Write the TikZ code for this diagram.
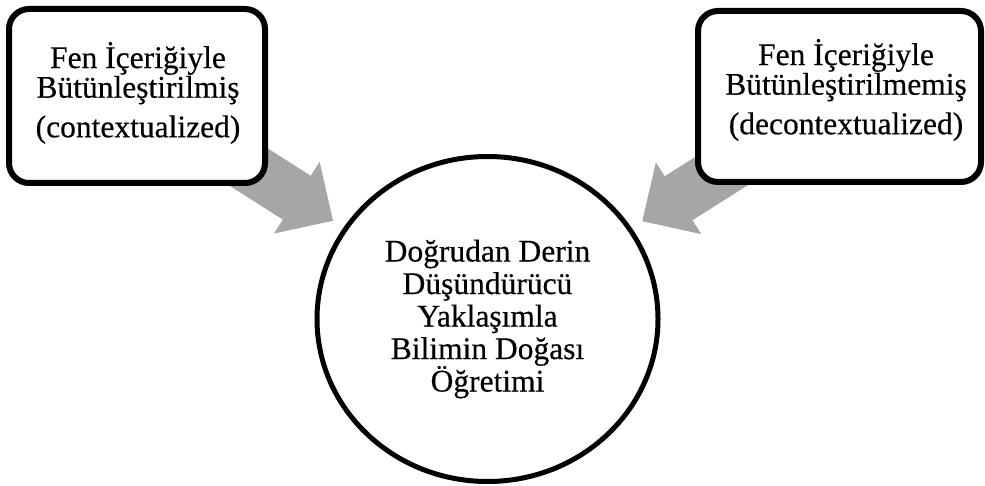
\documentclass[tikz,border=0pt]{standalone}
\usepackage{fontspec}
\setmainfont{Liberation Serif}[RawFeature={embolden=0.4}]
\usetikzlibrary{shapes.geometric,arrows.meta,backgrounds}
\definecolor{arrowgray}{HTML}{A6A6A6}
\begin{document}
\begin{tikzpicture}[x=1pt,y=-1pt,
  box/.style={draw=black, line width=6pt, rounded corners=20pt, fill=white, inner sep=0pt, outer sep=0pt},
  boxtext/.style={align=center, font=\fontsize{31.5}{28}\selectfont, inner sep=0pt},
  circ/.style={ellipse, draw=black, line width=5pt, fill=white, inner sep=0pt, outer sep=0pt, minimum width=341pt, minimum height=325pt, align=center, font=\fontsize{31.5}{32.5}\selectfont},
  bigarrow/.style={draw=arrowgray, line width=52pt, -{Triangle[width=85pt,length=43pt,line width=0pt]}, shorten >=15pt}
]
\useasboundingbox (0,0) rectangle (985,486);
\node[box, minimum width=256pt, minimum height=174pt] (lbox) at (137,96) {};
\node[boxtext] (ltext) at (138,93) {Fen İçeriğiyle\\Bütünleştirilmiş\\[10pt](contextualized)};
\node[box, minimum width=283pt, minimum height=171pt] (rbox) at (839.5,96.5) {};
\node[boxtext] (rtext) at (846,90) {Fen İçeriğiyle\\Bütünleştirilmemiş\\[10pt](decontextualized)};
\node[circ] (circ) at (487.5,319) {Doğrudan Derin\\Düşündürücü\\Yaklaşımla\\Bilimin Doğası\\Öğretimi};
\begin{scope}[on background layer]
\draw[bigarrow] (lbox.center) -- (circ);
\draw[bigarrow] (rbox.center) -- (circ);
\end{scope}
\end{tikzpicture}
\end{document}
